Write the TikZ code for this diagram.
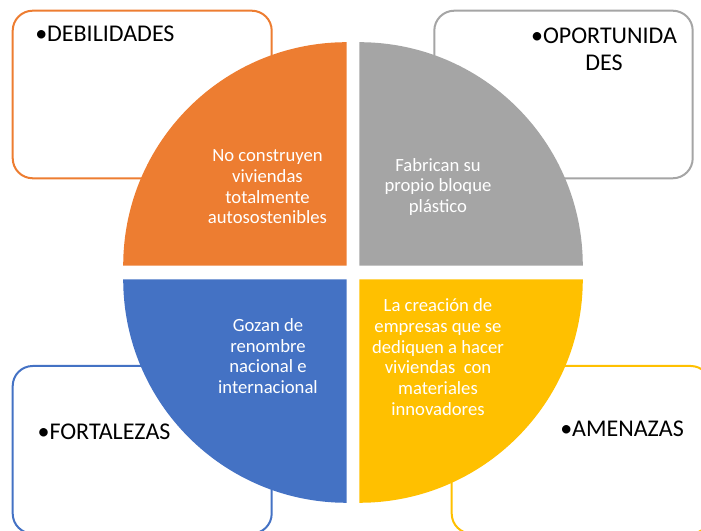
\documentclass[tikz,border=0pt]{standalone}
\usepackage{fontspec}
\setmainfont{Carlito}
\definecolor{naranja}{HTML}{ED7D31}
\definecolor{gris}{HTML}{A5A5A5}
\definecolor{azul}{HTML}{4472C4}
\definecolor{amarillo}{HTML}{FFC000}
\begin{document}
\begin{tikzpicture}[x=0.75pt,y=0.75pt,line join=round,line cap=round,
	caja/.style={draw=#1,line width=1.5pt,rounded corners=15pt},
	titulo/.style={font=\fontsize{18}{20.5}\selectfont,inner sep=0pt},
	texto/.style={font=\fontsize{14}{15.5}\selectfont,text=white,align=center,inner sep=0pt}]
	\useasboundingbox (0,0) rectangle (701,531);
	\clip (0,0) rectangle (701,531);
	\path 
	(12.7,352.7) coordinate (D1) (271.7,520.3) coordinate (D2)
	(434.3,352.7) coordinate (O1) (692.7,520.3) coordinate (O2)
	(12.7,-2.6) coordinate (F1) (271.7,165) coordinate (F2)
	(451.7,-2.6) coordinate (A1) (710.7,165) coordinate (A2)
	(346.7,265.3) coordinate (Q1)
	(359.3,265.3) coordinate (Q2)
	(346.7,251.7) coordinate (Q3)
	(359.3,251.7) coordinate (Q4)
	;
	% cajas
	\foreach \p/\col in {D/naranja,O/gris,F/azul,A/amarillo}{
		\draw[caja=\col] (\p1) rectangle (\p2);
	};
	% cuartos del circulo
	\foreach \q/\col/\g in {Q1/naranja/90,Q2/gris/0,Q3/azul/180,Q4/amarillo/270}{
		\fill[\col] (\q)--++(\g:223.5) arc[start angle=\g, end angle=\g+90, radius=223.5]--cycle;
	};
	\node[titulo,anchor=base west] (deb) at (35,489.3) {•DEBILIDADES};
	\node[titulo,align=center] (opo) at (604,482) {•OPORTUNIDA\\DES};
	\node[titulo,anchor=base west] (fort) at (37.3,91) {•FORTALEZAS};
	\node[titulo,anchor=base west] (ame) at (560,94.3) {•AMENAZAS};
	\node[texto] (tdeb) at (267.5,344) {No construyen\\viviendas\\totalmente\\autosostenibles};
	\node[texto] (topo) at (438,344) {Fabrican su\\propio bloque\\plástico};
	\node[texto] (tfort) at (268,175) {Gozan de\\renombre\\nacional e\\internacional};
	\node[texto] (tame) at (438,174) {La creación de\\empresas que se\\dediquen a hacer\\viviendas~ con\\materiales\\innovadores};
\end{tikzpicture}
\end{document}
